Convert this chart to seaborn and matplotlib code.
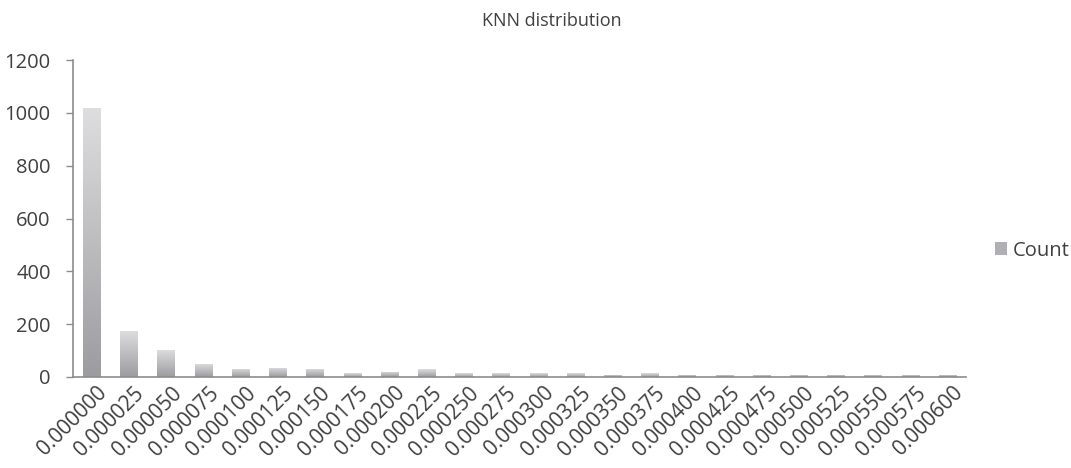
import numpy as np
import pandas as pd
import matplotlib
matplotlib.use("Agg")
import matplotlib.pyplot as plt
import matplotlib.transforms as mtransforms
from matplotlib.patches import Rectangle
import seaborn as sns

# Histogram bins of KNN values (bin 0.000450 has no entries and is not listed)
bins = ["0.000000", "0.000025", "0.000050", "0.000075", "0.000100", "0.000125",
        "0.000150", "0.000175", "0.000200", "0.000225", "0.000250", "0.000275",
        "0.000300", "0.000325", "0.000350", "0.000375", "0.000400", "0.000425",
        "0.000475", "0.000500", "0.000525", "0.000550", "0.000575", "0.000600"]
counts = [1020, 175, 103, 50, 32, 35, 32, 15, 19, 30, 14, 14,
          14, 14, 9, 14, 9, 9, 9, 9, 9, 9, 9, 9]
y_ticks = [0, 200, 400, 600, 800, 1000, 1200]

df = pd.DataFrame({"bin": bins, "Count": counts})

sns.set_theme(style="white")
plt.rcParams["font.family"] = ["Open Sans", "DejaVu Sans"]

TEXT = "#404040"
AXIS = "#8c8c8c"

fig = plt.figure(figsize=(10.71, 4.68), dpi=100)
ax = fig.add_axes([73 / 1071, 1 - 377 / 468, (966 - 73) / 1071, (377 - 60) / 468])

sns.barplot(data=df, x="bin", y="Count", color="#b8b8bc", width=0.46,
            saturation=1, ax=ax)

# vertical gradient fill for each bar, light at top, darker at the base
grad = np.linspace(1, 0, 256).reshape(-1, 1)
cmap = matplotlib.colors.LinearSegmentedColormap.from_list(
    "bar_grad", ["#9c9ca0", "#dedee0"])
for p in ax.patches:
    x0, y0 = p.get_x(), p.get_y()
    w, h = p.get_width(), p.get_height()
    if h <= 0:
        continue
    im = ax.imshow(grad, cmap=cmap, aspect="auto", extent=(x0, x0 + w, y0, y0 + h),
                   interpolation="bicubic", zorder=p.get_zorder() + 0.1)
    im.set_clip_path(p)
    p.set_edgecolor("none")

n = len(bins)
ax.set_xlim(-0.5, n - 0.5)
ax.set_ylim(0, 1200)
ax.set_yticks(y_ticks)
ax.set_yticklabels([str(v) for v in y_ticks])
ax.set_xlabel("")
ax.set_ylabel("")

ax.set_xticks(range(n))
ax.set_xticklabels(bins, rotation=45, ha="right", rotation_mode="anchor")
ax.set_xticks(np.arange(-0.5, n, 1.0), minor=True)
ax.tick_params(axis="x", which="major", length=0, pad=4, labelsize=15, labelcolor=TEXT)
ax.tick_params(axis="x", which="minor", length=5, width=1, color=AXIS, direction="out")
ax.tick_params(axis="y", length=5, width=1, color=AXIS, direction="out", pad=11,
               labelsize=14.5, labelcolor=TEXT, left=True)

# nudge the slanted labels so their ends sit just right of each bar
shift = mtransforms.ScaledTranslation(5 / 100, 0, fig.dpi_scale_trans)
for lbl in ax.get_xticklabels():
    lbl.set_transform(lbl.get_transform() + shift)

for side in ["top", "right"]:
    ax.spines[side].set_visible(False)
for side in ["left", "bottom"]:
    ax.spines[side].set_color(AXIS)
    ax.spines[side].set_linewidth(1.2)

fig.text(552 / 1071, 1 - 21 / 468, "KNN distribution", ha="center", va="center",
         fontsize=13, color=TEXT)

handle = Rectangle((0, 0), 1, 1, facecolor="#b0b0b4", edgecolor="none")
fig.legend([handle], ["Count"], loc="center left", bbox_to_anchor=(0.912, 0.464),
           frameon=False, fontsize=14.5, handlelength=0.6, handleheight=0.6,
           handletextpad=0.3, labelcolor=TEXT)

fig.savefig("out.png", dpi=100)
